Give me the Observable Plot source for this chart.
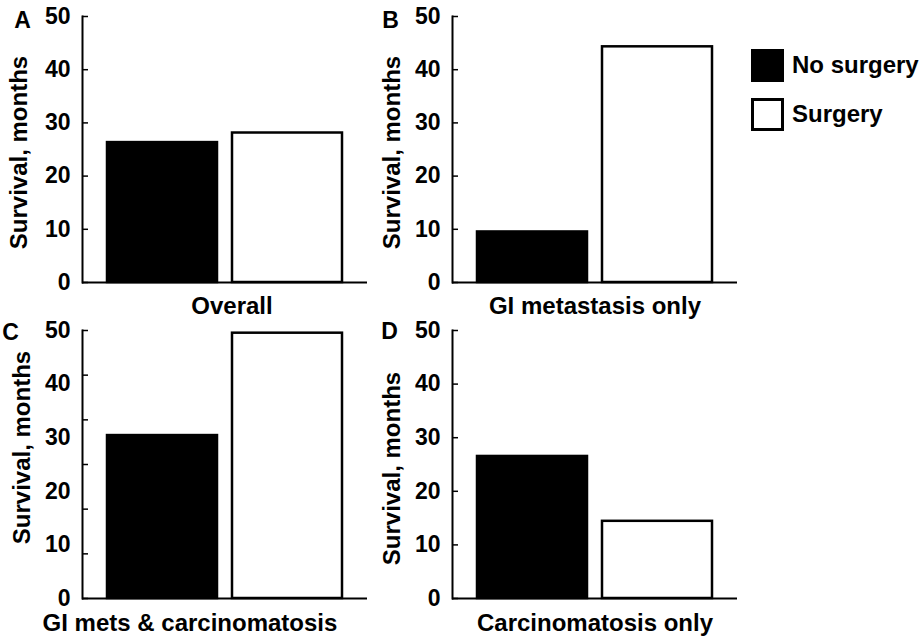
<!DOCTYPE html>
<html>
<head>
<meta charset="utf-8">
<script src="https://cdn.jsdelivr.net/npm/d3@7"></script>
<script src="https://cdn.jsdelivr.net/npm/@observablehq/plot@0.6"></script>
<style>
  html, body { margin: 0; padding: 0; background: #fff; }
  #wrap { position: relative; width: 923px; height: 636px; overflow: hidden;
          font-family: "Liberation Sans", Arial, Helvetica, sans-serif; font-weight: bold; color: #000; }
  .panel { position: absolute; }
  .panel svg { overflow: visible; }
  .lg-box { position: absolute; width: 33px; height: 33px; box-sizing: border-box; border: 3px solid #000; }
  .lg-text { position: absolute; font-size: 24px; line-height: 24px; white-space: nowrap; }
</style>
</head>
<body>
<div id="wrap"></div>
<script>
// ---------- data ----------
const groups = ["No surgery", "Surgery"];
const panelLetters = ["A", "B", "C", "D"];
const panelLabels = ["Overall", "GI metastasis only", "GI mets & carcinomatosis", "Carcinomatosis only"];
const noSurgery = [26.3, 9.5, 30.4, 26.5];
const surgery = [28.1, 44.3, 49.5, 14.4];
const yTickLabels = [0, 10, 20, 30, 40, 50];
const yTickMarksC = [0, 8.33, 16.67, 25, 33.33, 41.67, 50];
const yTitle = "Survival, months";

// ---------- layout (styling only) ----------
const layout = [
  {left: 0,   top: 0,   mTop: 16, letterDx: -60, letterDy: 4,  titleDx: -63, titleDy: 3,   labelDx: 7,   labelDy: 24},
  {left: 370, top: 0,   mTop: 16, letterDx: -62, letterDy: 4,  titleDx: -60, titleDy: 3,   labelDx: 0,   labelDy: 24},
  {left: 0,   top: 316, mTop: 14, letterDx: -72, letterDy: 2,  titleDx: -60, titleDy: -17, labelDx: -35, labelDy: 25},
  {left: 370, top: 316, mTop: 14, letterDx: -63, letterDy: 1,  titleDx: -60, titleDy: 4,   labelDx: 0,   labelDy: 25}
];
const tickMarkSets = [yTickLabels, yTickLabels, yTickMarksC, yTickLabels];

const wrap = document.getElementById("wrap");

panelLetters.forEach((letter, i) => {
  const L = layout[i];
  const data = groups.map((g, j) => ({group: g, value: j === 0 ? noSurgery[i] : surgery[i]}));
  const chart = Plot.plot({
    width: 370,
    height: 318,
    marginLeft: 82,
    marginRight: 3,
    marginTop: L.mTop,
    marginBottom: 36,
    style: {background: "transparent", fontFamily: '"Liberation Sans", Arial, sans-serif', fontWeight: "bold", fontSize: "23px", color: "#000", overflow: "visible"},
    x: {domain: groups, paddingInner: 0.12, paddingOuter: 0.2, axis: null},
    y: {domain: [0, 50], axis: null, label: null},
    color: {domain: groups, range: ["#000", "#fff"]},
    marks: [
      Plot.barY(data, {x: "group", y: "value", fill: "group", stroke: "#000", strokeWidth: 2.5}),
      Plot.ruleY([0], {stroke: "#000", strokeWidth: 2}),
      Plot.frame({anchor: "left", stroke: "#000", strokeWidth: 2}),
      Plot.axisY({ticks: tickMarkSets[i], tickSize: 6, dx: 6, tickFormat: () => "", strokeWidth: 1.5, label: null}),
      Plot.axisY({ticks: yTickLabels, tickSize: 0, tickPadding: 12, fontSize: 23, fontWeight: "bold", tickFormat: d => String(d), label: null}),
      Plot.text([letter], {frameAnchor: "top-left", dx: L.letterDx, dy: L.letterDy, textAnchor: "middle", lineAnchor: "middle", fontSize: 23, fontWeight: "bold"}),
      Plot.text([yTitle], {frameAnchor: "left", dx: L.titleDx, dy: L.titleDy, rotate: -90, textAnchor: "middle", lineAnchor: "middle", fontSize: 24, fontWeight: "bold"}),
      Plot.text([panelLabels[i]], {frameAnchor: "bottom", dx: L.labelDx, dy: L.labelDy, textAnchor: "middle", lineAnchor: "middle", fontSize: 24, fontWeight: "bold"})
    ]
  });
  const div = document.createElement("div");
  div.className = "panel";
  div.style.left = L.left + "px";
  div.style.top = L.top + "px";
  div.appendChild(chart);
  wrap.appendChild(div);
});

// ---------- legend ----------
const legendFills = ["#000", "#fff"];
const legendTops = [49, 98];
groups.forEach((g, j) => {
  const box = document.createElement("div");
  box.className = "lg-box";
  box.style.left = "751px";
  box.style.top = legendTops[j] + "px";
  box.style.background = legendFills[j];
  wrap.appendChild(box);
  const t = document.createElement("div");
  t.className = "lg-text";
  t.style.left = "792px";
  t.style.top = (legendTops[j] + 4) + "px";
  t.textContent = g;
  wrap.appendChild(t);
});
</script>
</body>
</html>
